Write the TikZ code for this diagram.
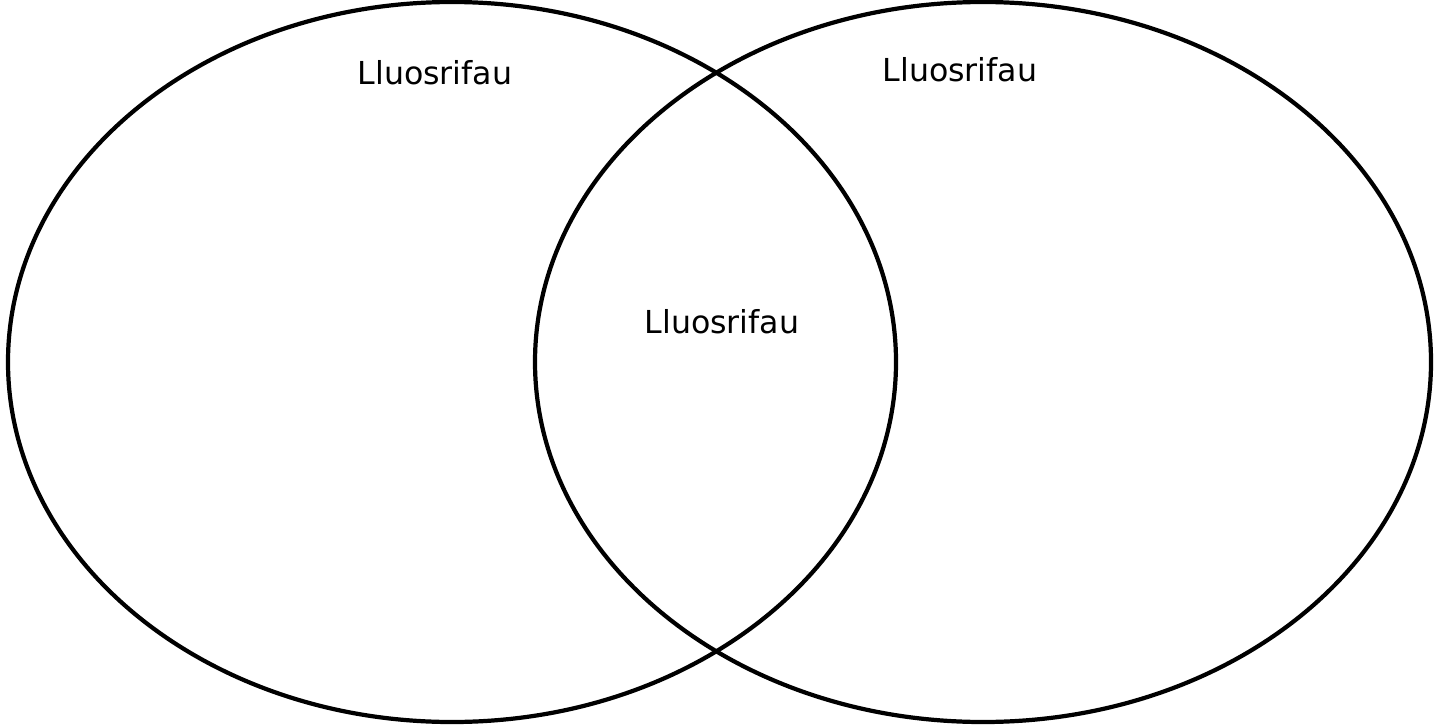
\documentclass[tikz,border=0pt]{standalone}
\usepackage{fontspec}
\setmainfont{DejaVu Sans}
\usetikzlibrary{positioning}

\begin{document}
\begin{tikzpicture}[
  x=0.02cm, y=0.02cm,
  set/.style={line width=2.4pt, draw=black},
  lbl/.style={font=\fontsize{18}{20}\selectfont, inner sep=0pt}
]
\useasboundingbox (0,0) rectangle (1436,725);
\draw[set] (452,363) ellipse [x radius=444, y radius=360];
\draw[set] (983,363) ellipse [x radius=448, y radius=360];
\node[lbl] (left) at (435,652) {Lluosrifau};
\node[lbl] (right) at (960,655) {Lluosrifau};
\node[lbl] (both) at (722,403) {Lluosrifau};
\end{tikzpicture}
\end{document}
